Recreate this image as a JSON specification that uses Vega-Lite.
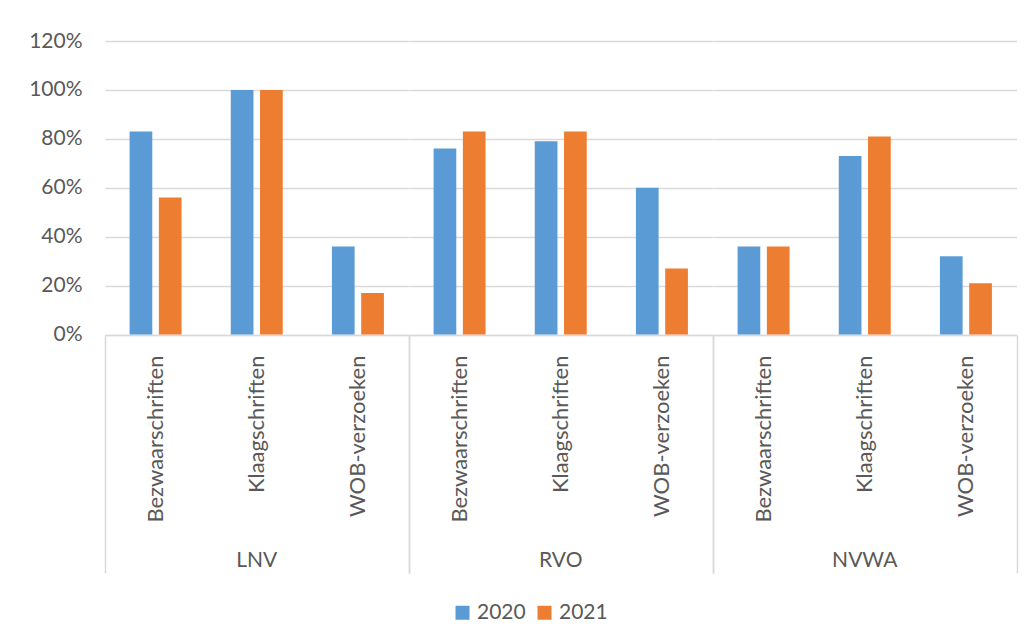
{
  "$schema": "https://vega.github.io/schema/vega-lite/v6.json",
  "padding": {"left": 28, "top": 30, "right": 17, "bottom": 10},
  "background": "white",
  "data": {"values": [
    {"org": "LNV", "cat": "Bezwaarschriften", "year": "2020", "value": 0.83},
    {"org": "LNV", "cat": "Bezwaarschriften", "year": "2021", "value": 0.56},
    {"org": "LNV", "cat": "Klaagschriften", "year": "2020", "value": 1.0},
    {"org": "LNV", "cat": "Klaagschriften", "year": "2021", "value": 1.0},
    {"org": "LNV", "cat": "WOB-verzoeken", "year": "2020", "value": 0.36},
    {"org": "LNV", "cat": "WOB-verzoeken", "year": "2021", "value": 0.17},
    {"org": "RVO", "cat": "Bezwaarschriften", "year": "2020", "value": 0.76},
    {"org": "RVO", "cat": "Bezwaarschriften", "year": "2021", "value": 0.83},
    {"org": "RVO", "cat": "Klaagschriften", "year": "2020", "value": 0.79},
    {"org": "RVO", "cat": "Klaagschriften", "year": "2021", "value": 0.83},
    {"org": "RVO", "cat": "WOB-verzoeken", "year": "2020", "value": 0.60},
    {"org": "RVO", "cat": "WOB-verzoeken", "year": "2021", "value": 0.27},
    {"org": "NVWA", "cat": "Bezwaarschriften", "year": "2020", "value": 0.36},
    {"org": "NVWA", "cat": "Bezwaarschriften", "year": "2021", "value": 0.36},
    {"org": "NVWA", "cat": "Klaagschriften", "year": "2020", "value": 0.73},
    {"org": "NVWA", "cat": "Klaagschriften", "year": "2021", "value": 0.81},
    {"org": "NVWA", "cat": "WOB-verzoeken", "year": "2020", "value": 0.32},
    {"org": "NVWA", "cat": "WOB-verzoeken", "year": "2021", "value": 0.21}
  ]},
  "facet": {
    "column": {
      "field": "org", "type": "nominal", "sort": ["LNV", "RVO", "NVWA"], "title": null,
      "header": {"labelOrient": "bottom", "labelFont": "Lato", "labelFontSize": 21, "labelColor": "#595959", "labelPadding": -24}
    }
  },
  "spacing": 0,
  "spec": {
    "width": 303.5,
    "height": 293.5,
    "mark": {"type": "bar"},
    "encoding": {
      "x": {
        "field": "cat", "type": "nominal", "title": null,
        "scale": {"paddingInner": 0, "paddingOuter": 0},
        "axis": {
          "labelAngle": -90, "labelFontSize": 22, "labelColor": "#595959",
          "tickBand": "extent", "tickSize": 238, "tickColor": "#D9D9D9", "tickWidth": 1.5,
          "tickOpacity": {"condition": {"test": "datum.value === 'WOB-verzoeken' || datum.extra", "value": 1}, "value": 0},
          "labelPadding": -218, "domainColor": "#D9D9D9", "domainWidth": 1.5
        }
      },
      "xOffset": {"field": "year", "type": "nominal", "scale": {"paddingInner": 0.225, "paddingOuter": 0.84}},
      "y": {
        "field": "value", "type": "quantitative", "title": null,
        "scale": {"domain": [0, 1.2]},
        "axis": {
          "values": [0, 0.2, 0.4, 0.6, 0.8, 1.0, 1.2], "format": ".0%",
          "domain": false, "ticks": false, "labelFontSize": 21, "labelColor": "#595959",
          "labelPadding": 23, "gridColor": "#D9D9D9", "gridWidth": 1.5
        }
      },
      "color": {
        "field": "year", "type": "nominal",
        "scale": {"range": ["#5B9BD5", "#ED7D31"]},
        "legend": {
          "orient": "none", "legendX": 347, "legendY": 561, "title": null, "direction": "horizontal",
          "symbolType": "square", "symbolSize": 196, "symbolStrokeWidth": 0,
          "labelFontSize": 21, "labelColor": "#595959", "labelOffset": 4, "columnPadding": 8
        }
      }
    }
  },
  "config": {"view": {"stroke": null}, "font": "Lato"}
}
